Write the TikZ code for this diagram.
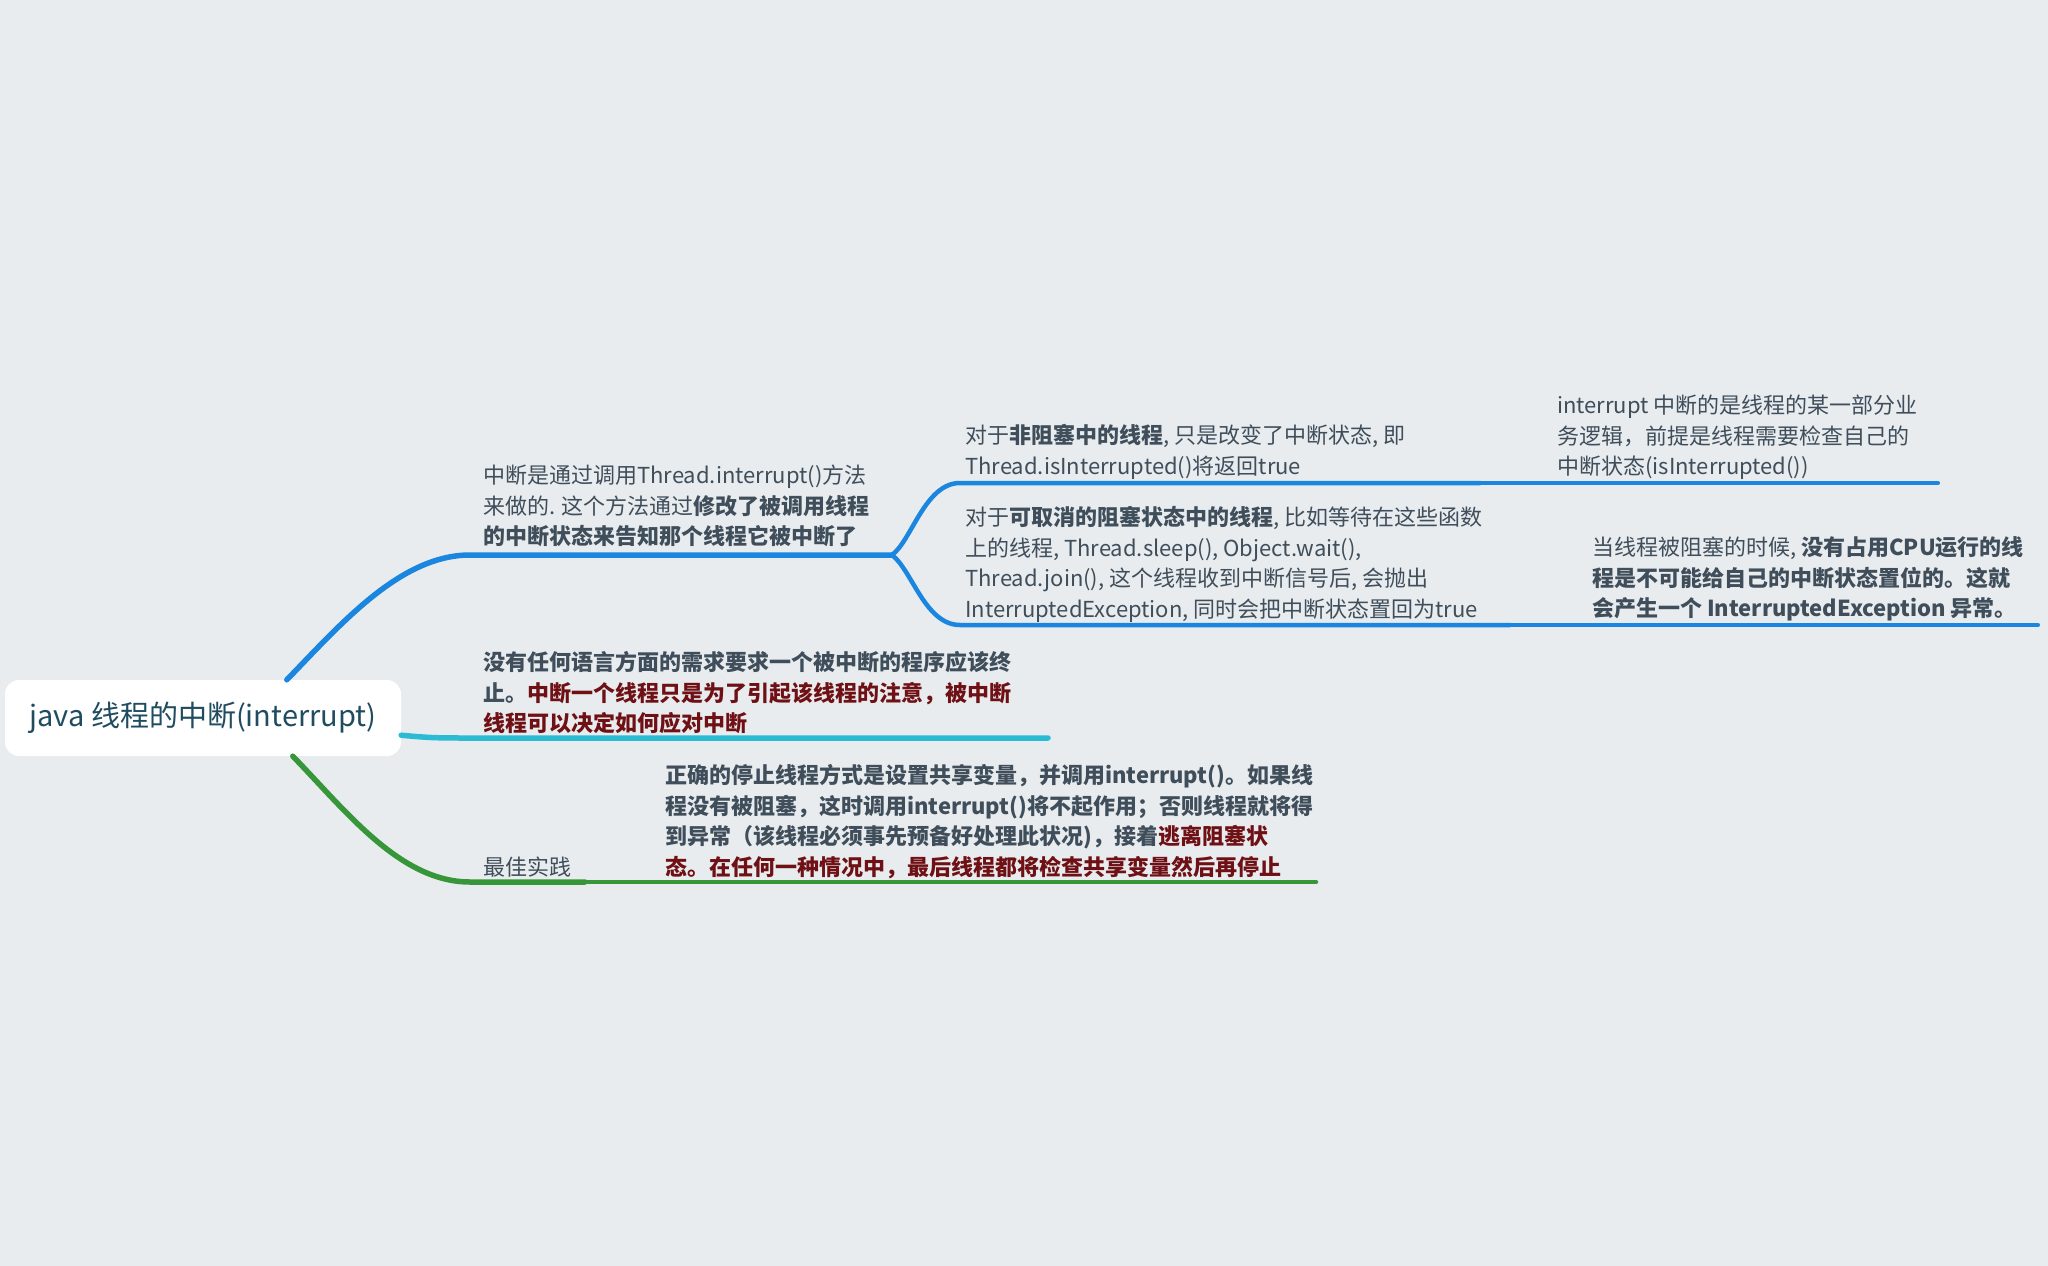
\documentclass[tikz,border=0pt]{standalone}
\usepackage{fontspec}
\setmainfont{Noto Sans CJK SC}
\usetikzlibrary{calc}
\definecolor{bgc}{HTML}{E8ECEF}
\definecolor{bluec}{HTML}{1A86DF}
\definecolor{cyanc}{HTML}{2BBCD4}
\definecolor{greenc}{HTML}{38963A}
\definecolor{tgray}{HTML}{3F4E5A}
\definecolor{dred}{HTML}{6E1014}
\definecolor{roottxt}{HTML}{1F4C60}
\begin{document}
\begin{tikzpicture}[x=1pt,y=-1pt,
  txt/.style={anchor=north west,inner sep=0pt,align=left,text=tgray,font=\fontsize{22}{30.5}\selectfont},
  rootbox/.style={fill=white,rounded corners=14pt,minimum width=396pt,minimum height=76pt,inner sep=0pt,text=roottxt,font=\fontsize{29}{34}\selectfont},
  branch/.style={line width=5.5pt,line cap=round},
  sub/.style={line width=4.5pt,line cap=round},
  subsub/.style={line width=4pt,line cap=round}]
\fill[bgc] (0,0) rectangle (2048,1266);
\useasboundingbox (0,0) rectangle (2048,1266);

% root
\node[rootbox] (root) at (203,718) {java 线程的中断(interrupt)};

% text nodes
\node[txt] (A) at (483,462) {中断是通过调用Thread.interrupt()方法\strut\\来做的. 这个方法通过\textbf{修改了被调用线程}\strut\\\textbf{的中断状态来告知那个线程它被中断了}\strut};
\node[txt] (A1) at (965,422) {对于\textbf{非阻塞中的线程}, 只是改变了中断状态, 即\strut\\Thread.isInterrupted()将返回true\strut};
\node[txt] (A2) at (965,504) {对于\textbf{可取消的阻塞状态中的线程}, 比如等待在这些函数\strut\\上的线程, Thread.sleep(), Object.wait(),\strut\\Thread.join(), 这个线程收到中断信号后, 会抛出\strut\\InterruptedException, 同时会把中断状态置回为true\strut};
\node[txt] (A1a) at (1557,392) {interrupt 中断的是线程的某一部分业\strut\\务逻辑，前提是线程需要检查自己的\strut\\中断状态(isInterrupted())\strut};
\node[txt] (A2a) at (1592,534) {当线程被阻塞的时候, \textbf{没有占用CPU运行的线}\strut\\\textbf{程是不可能给自己的中断状态置位的。这就}\strut\\\textbf{会产生一个 InterruptedException 异常。}\strut};
\node[txt] (B) at (483,649) {\textbf{没有任何语言方面的需求要求一个被中断的程序应该终}\strut\\\textbf{止。\textcolor{dred}{中断一个线程只是为了引起该线程的注意，被中断}}\strut\\\textbf{\textcolor{dred}{线程可以决定如何应对中断}}\strut};
\node[txt] (C) at (483,854) {最佳实践\strut};
\node[txt] (C1) at (665,762) {\textbf{正确的停止线程方式是设置共享变量，并调用interrupt()。如果线}\strut\\\textbf{程没有被阻塞，这时调用interrupt()将不起作用；否则线程就将得}\strut\\\textbf{到异常（该线程必须事先预备好处理此状况)，接着\textcolor{dred}{逃离阻塞状}}\strut\\\textbf{\textcolor{dred}{态。在任何一种情况中，最后线程都将检查共享变量然后再停止}}\strut};

% coordinates of underlines
\coordinate (Ab) at (470,555);
\coordinate (Ae) at (892,555);
\coordinate (A1b) at (960,483);
\coordinate (A1e) at (1480,483);
\coordinate (A1ae) at (1938,483);
\coordinate (A2b) at (960,625);
\coordinate (A2e) at (1510,625);
\coordinate (A2ae) at (2038,625);
\coordinate (Bb) at (470,738);
\coordinate (Be) at (1048,738);
\coordinate (Cb) at (470,882);
\coordinate (Ce) at (585,882);
\coordinate (C1e) at (1316,882);

% blue branch
\draw[branch,bluec] ($(root.north west)+(282,0)$) .. controls (340,625) and (400,555) .. (Ab) -- (Ae);
\draw[sub,bluec] (Ae) .. controls (912,540) and (925,483) .. (A1b) -- (A1e);
\draw[sub,bluec] (Ae) .. controls (912,570) and (925,625) .. (A2b) -- (A2e);
\draw[subsub,bluec] (A1e) -- (A1ae);
\draw[subsub,bluec] (A2e) -- (A2ae);

% cyan branch
\draw[branch,cyanc] ($(root.south east)+(0,-21)$) .. controls (430,738) and (440,738) .. (Bb) -- (Be);

% green branch
\draw[branch,greenc] ($(root.south west)+(288,0)$) .. controls (346,811) and (400,882) .. (Cb) -- (Ce);
\draw[sub,greenc] (Ce) -- (C1e);
\end{tikzpicture}
\end{document}
